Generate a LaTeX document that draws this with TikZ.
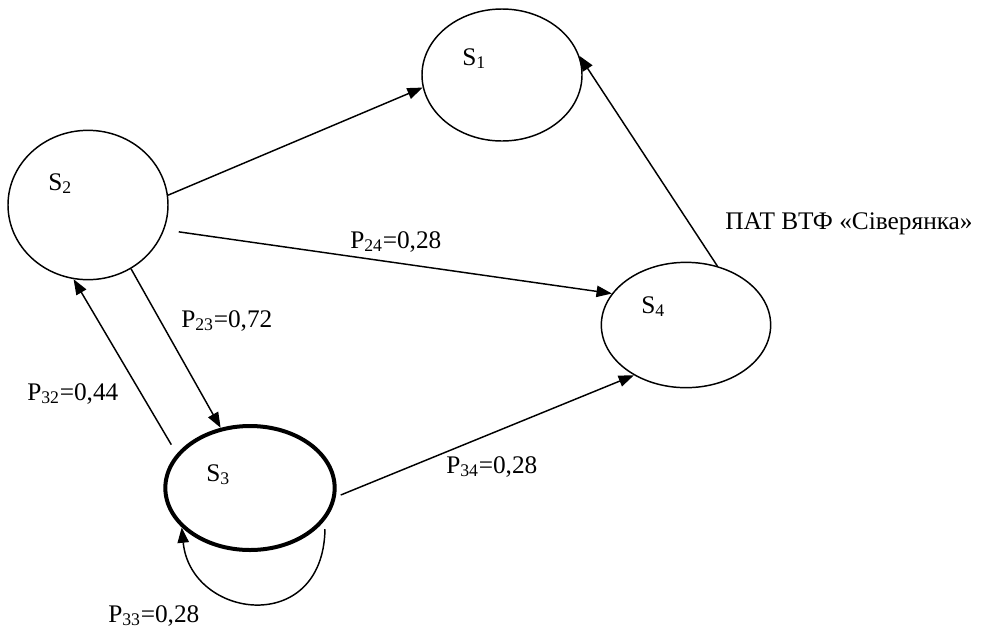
\documentclass[tikz,border=0pt]{standalone}
\usepackage{fontspec}
\setmainfont{Liberation Serif}
\usetikzlibrary{shapes.geometric,arrows.meta}

\begin{document}
\begin{tikzpicture}[x=0.75pt,y=-0.75pt,
    state/.style={draw, ellipse, line width=1.1pt, inner sep=0pt},
    lbl/.style={anchor=base west, inner sep=0pt, font=\fontsize{19}{23}\selectfont},
    trans/.style={line width=1.1pt, -{Triangle[length=11.5pt,width=8.5pt]}}]
    \useasboundingbox (0,0) rectangle (992,633);
    % states
    \node[state, minimum width=120pt, minimum height=99pt] (s1) at (502,75) {};
    \node[state, minimum width=120pt, minimum height=112pt] (s2) at (88,205) {};
    \node[state, line width=3pt, minimum width=127pt, minimum height=93pt] (s3) at (250,488) {};
    \node[state, minimum width=127pt, minimum height=94pt] (s4) at (686,325) {};
    \node[lbl] (ts1) at (462,65) {S\textsubscript{1}};
    \node[lbl] (ts2) at (48,190) {S\textsubscript{2}};
    \node[lbl] (ts3) at (206,481) {S\textsubscript{3}};
    \node[lbl] (ts4) at (641,313) {S\textsubscript{4}};

    % transitions
    \draw[trans] (s2.7) -- (s1.189);
    \draw[trans, shorten <=11pt] (s2.-18) -- (s4.157);
    \draw[trans] (s2.-56) -- (s3.116.6);
    \draw[trans, shorten <=8pt] (s3.155) -- (s2.-101);
    \draw[trans, shorten <=4pt] (s3.-6) -- (s4.-136);
    \draw[trans] (s4.62.7) -- (s1.14);
    \draw[trans, shorten <=7pt] (s3.-23) .. controls +(-2,117) and +(9,92) .. (s3.210);

    % probabilities
    \node[lbl] (p24) at (350,248) {P\textsubscript{24}=0,28};
    \node[lbl] (p23) at (181,327) {P\textsubscript{23}=0,72};
    \node[lbl] (p32) at (27,400) {P\textsubscript{32}=0,44};
    \node[lbl] (p34) at (446,473) {P\textsubscript{34}=0,28};
    \node[lbl] (p33) at (108,622) {P\textsubscript{33}=0,28};
    \node[lbl] (firm) at (725,229) {ПАТ ВТФ «Сіверянка»};
\end{tikzpicture}
\end{document}
